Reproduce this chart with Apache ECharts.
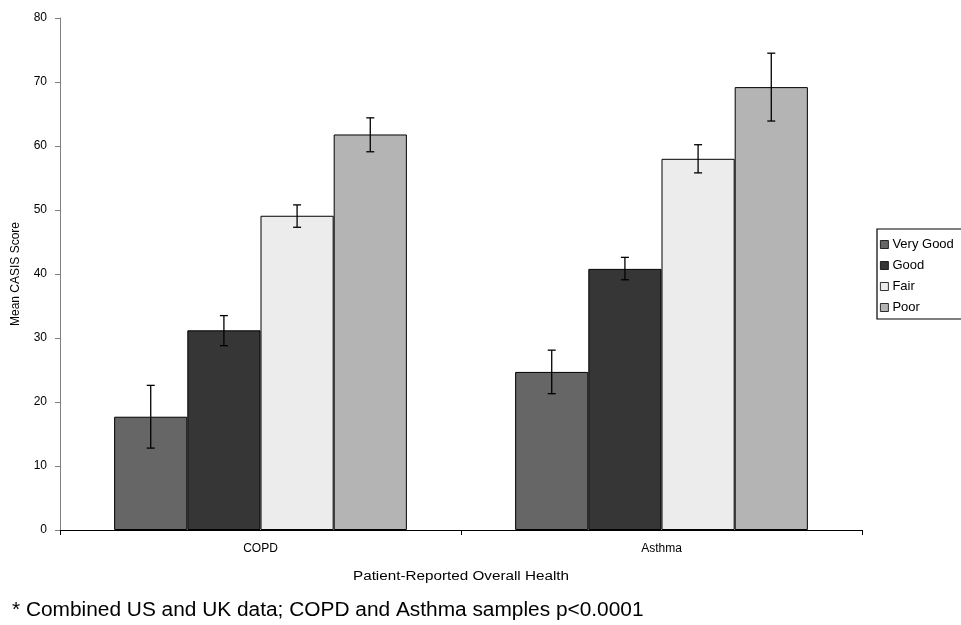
<!DOCTYPE html>
<html><head><meta charset="utf-8">
<script src="https://cdn.jsdelivr.net/npm/echarts@6/dist/echarts.min.js"></script>
<style>html,body{margin:0;padding:0;background:#fff}#c{width:961px;height:625px}</style>
</head><body><div id="c"></div>
<script>
var categories = ['COPD', 'Asthma'];
var seriesNames = ['Very Good', 'Good', 'Fair', 'Poor'];
var veryGood = [17.7, 24.7];
var good = [31.2, 40.8];
var fair = [49.1, 58.0];
var poor = [61.8, 69.2];
var veryGoodErr = [[12.8, 22.6], [21.3, 28.1]];
var goodErr = [[28.8, 33.5], [39.1, 42.6]];
var fairErr = [[47.3, 50.8], [55.8, 60.2]];
var poorErr = [[59.1, 64.4], [63.9, 74.5]];
var yTicks = [0, 10, 20, 30, 40, 50, 60, 70, 80];
var colors = ['#666666', '#363636', '#ececec', '#b4b4b4'];
var xTitle = 'Patient-Reported Overall Health';
var yTitle = 'Mean CASIS Score';
var footnote = '* Combined US and UK data; COPD and Asthma samples p<0.0001';

var values = [veryGood, good, fair, poor];
var errs = [veryGoodErr, goodErr, fairErr, poorErr];
var gapRatio = 0.27;
var FONT = 'Liberation Sans, Arial, sans-serif';

var chart = echarts.init(document.getElementById('c'));
var series = [];
values.forEach(function (v, i) {
  series.push({
    name: seriesNames[i], type: 'bar', data: v,
    barGap: '0%', barCategoryGap: (gapRatio * 100) + '%',
    itemStyle: { color: colors[i], borderColor: '#000', borderWidth: 1 },
    emphasis: { disabled: true }, animation: false
  });
});
var errData = [];
errs.forEach(function (e, s) {
  e.forEach(function (pair, c) { errData.push([c, pair[0], pair[1], s]); });
});
series.push({
  type: 'custom', data: errData, animation: false, z: 10,
  encode: { x: 0, y: [1, 2] },
  renderItem: function (params, api) {
    var c = api.value(0), lo = api.value(1), hi = api.value(2), s = api.value(3);
    var band = api.size([1, 0])[0];
    var bw = band * (1 - gapRatio) / 4;
    var center = api.coord([c, 0])[0];
    var x = center - 2 * bw + (s + 0.5) * bw;
    var yLo = api.coord([c, lo])[1], yHi = api.coord([c, hi])[1];
    var cap = 4;
    var st = { stroke: '#000', lineWidth: 1.3 };
    return { type: 'group', children: [
      { type: 'line', shape: { x1: x, y1: yLo, x2: x, y2: yHi }, style: st },
      { type: 'line', shape: { x1: x - cap, y1: yLo, x2: x + cap, y2: yLo }, style: st },
      { type: 'line', shape: { x1: x - cap, y1: yHi, x2: x + cap, y2: yHi }, style: st }
    ]};
  }
});

chart.setOption({
  animation: false,
  textStyle: { fontFamily: FONT },
  grid: { left: 60, right: 99, top: 18, bottom: 95 },
  legend: {
    data: seriesNames, orient: 'vertical', left: 877, top: 229,
    itemWidth: 8, itemHeight: 8, itemGap: 8, icon: 'rect',
    borderColor: '#000', borderWidth: 1.2, padding: [9, 10, 5, 3],
    itemStyle: { borderWidth: 0.8 },
    textStyle: { fontSize: 13, color: '#000', fontFamily: FONT, padding: [0, 0, 0, -1] },
    selectedMode: false
  },
  xAxis: {
    type: 'category', data: categories,
    axisLine: { lineStyle: { color: '#000', width: 1 } },
    axisTick: { show: true, alignWithLabel: false, length: 5, lineStyle: { color: '#000' } },
    axisLabel: { fontSize: 12, color: '#000', margin: 13, fontFamily: FONT }
  },
  yAxis: {
    type: 'value', min: 0, max: 80, interval: 10,
    name: yTitle, nameLocation: 'middle', nameGap: 38, nameRotate: 90,
    nameTextStyle: { fontSize: 12, color: '#000', fontFamily: FONT },
    axisLine: { show: true, lineStyle: { color: '#808080', width: 1 } },
    axisTick: { show: true, length: 5, lineStyle: { color: '#808080' } },
    splitLine: { show: false },
    axisLabel: { fontSize: 12, color: '#000', margin: 13, fontFamily: FONT,
      formatter: function (v) { return yTicks.indexOf(v) >= 0 ? String(v) : ''; } }
  },
  graphic: [{
    type: 'text', x: 461, y: 577, scaleX: 1.27,
    style: { text: xTitle, fontSize: 12, fill: '#000', fontFamily: FONT,
      align: 'center', verticalAlign: 'middle' }
  }, {
    type: 'text', x: 12, y: 611, scaleX: 1.07,
    style: { text: footnote, fontSize: 19.5, fill: '#000', fontFamily: FONT,
      align: 'left', verticalAlign: 'middle' }
  }],
  series: series
});
</script></body></html>
